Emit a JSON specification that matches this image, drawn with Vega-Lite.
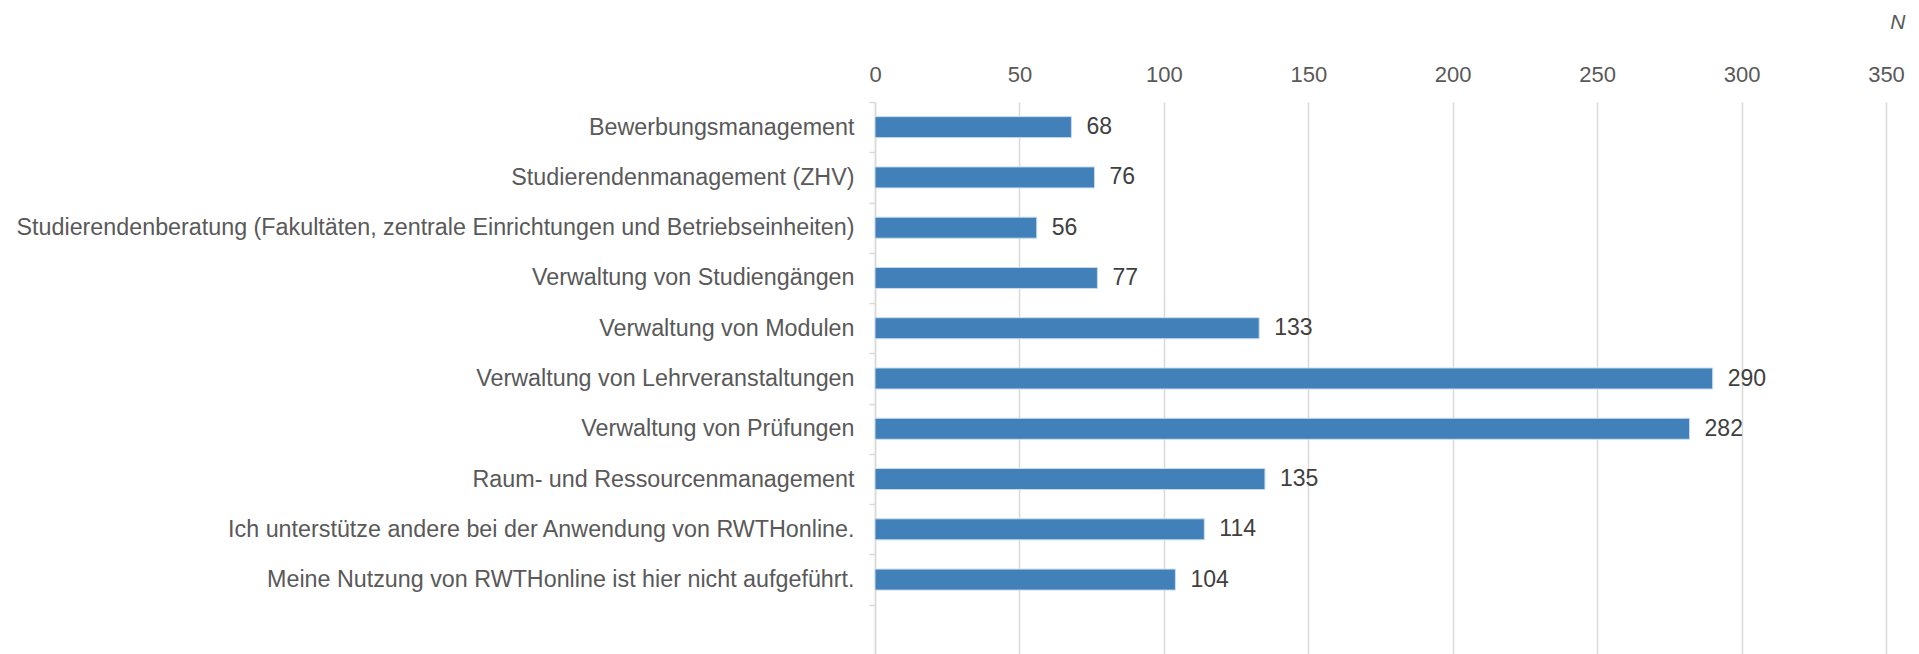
{
  "$schema": "https://vega.github.io/schema/vega-lite/v6.json",
  "autosize": {"type": "none"},
  "padding": {"left": 875, "top": 102, "right": 33, "bottom": 0},
  "width": 1011,
  "height": 553,
  "background": "white",
  "config": {
    "view": {"stroke": null},
    "font": "Liberation Sans"
  },
  "data": {
    "values": [
      {"kategorie": "Bewerbungsmanagement", "n": 68},
      {"kategorie": "Studierendenmanagement (ZHV)", "n": 76},
      {"kategorie": "Studierendenberatung (Fakultäten, zentrale Einrichtungen und Betriebseinheiten)", "n": 56},
      {"kategorie": "Verwaltung von Studiengängen", "n": 77},
      {"kategorie": "Verwaltung von Modulen", "n": 133},
      {"kategorie": "Verwaltung von Lehrveranstaltungen", "n": 290},
      {"kategorie": "Verwaltung von Prüfungen", "n": 282},
      {"kategorie": "Raum- und Ressourcenmanagement", "n": 135},
      {"kategorie": "Ich unterstütze andere bei der Anwendung von RWTHonline.", "n": 114},
      {"kategorie": "Meine Nutzung von RWTHonline ist hier nicht aufgeführt.", "n": 104}
    ]
  },
  "encoding": {
    "y": {
      "field": "kategorie",
      "type": "nominal",
      "scale": {
        "domain": [
          "Bewerbungsmanagement",
          "Studierendenmanagement (ZHV)",
          "Studierendenberatung (Fakultäten, zentrale Einrichtungen und Betriebseinheiten)",
          "Verwaltung von Studiengängen",
          "Verwaltung von Modulen",
          "Verwaltung von Lehrveranstaltungen",
          "Verwaltung von Prüfungen",
          "Raum- und Ressourcenmanagement",
          "Ich unterstütze andere bei der Anwendung von RWTHonline.",
          "Meine Nutzung von RWTHonline ist hier nicht aufgeführt.",
          " "
        ],
        "paddingInner": 0,
        "paddingOuter": 0
      },
      "axis": {
        "title": null,
        "tickBand": "extent",
        "ticks": true,
        "tickSize": 6,
        "tickColor": "#d9d9d9",
        "tickWidth": 1.5,
        "domainColor": "#d9d9d9",
        "domainWidth": 1.5,
        "labelPadding": 15,
        "labelFontSize": 23.3,
        "labelColor": "#595959",
        "labelLimit": 1000,
        "grid": false
      }
    },
    "x": {
      "field": "n",
      "type": "quantitative",
      "scale": {"domain": [0, 350], "nice": false},
      "axis": {
        "orient": "top",
        "values": [0, 50, 100, 150, 200, 250, 300, 350],
        "title": "N",
        "titleFontStyle": "italic",
        "titleFontWeight": "normal",
        "titleFontSize": 21,
        "titleColor": "#595959",
        "titleAngle": 0,
        "titleAlign": "right",
        "titleBaseline": "alphabetic",
        "titleX": 1030,
        "titleY": -74,
        "domain": false,
        "ticks": false,
        "tickSize": 0,
        "labelFlush": false,
        "labelPadding": 21,
        "labelBaseline": "alphabetic",
        "labelFontSize": 22,
        "labelColor": "#595959",
        "grid": true,
        "gridColor": "#d9d9d9",
        "gridWidth": 1.5
      }
    }
  },
  "layer": [
    {
      "mark": {"type": "bar", "size": 21, "color": "#4180b9", "stroke": "#c9dcee", "strokeWidth": 1}
    },
    {
      "mark": {"type": "text", "align": "left", "baseline": "middle", "dx": 15, "fontSize": 23, "color": "#404040"},
      "encoding": {"text": {"field": "n", "type": "quantitative"}}
    }
  ]
}
